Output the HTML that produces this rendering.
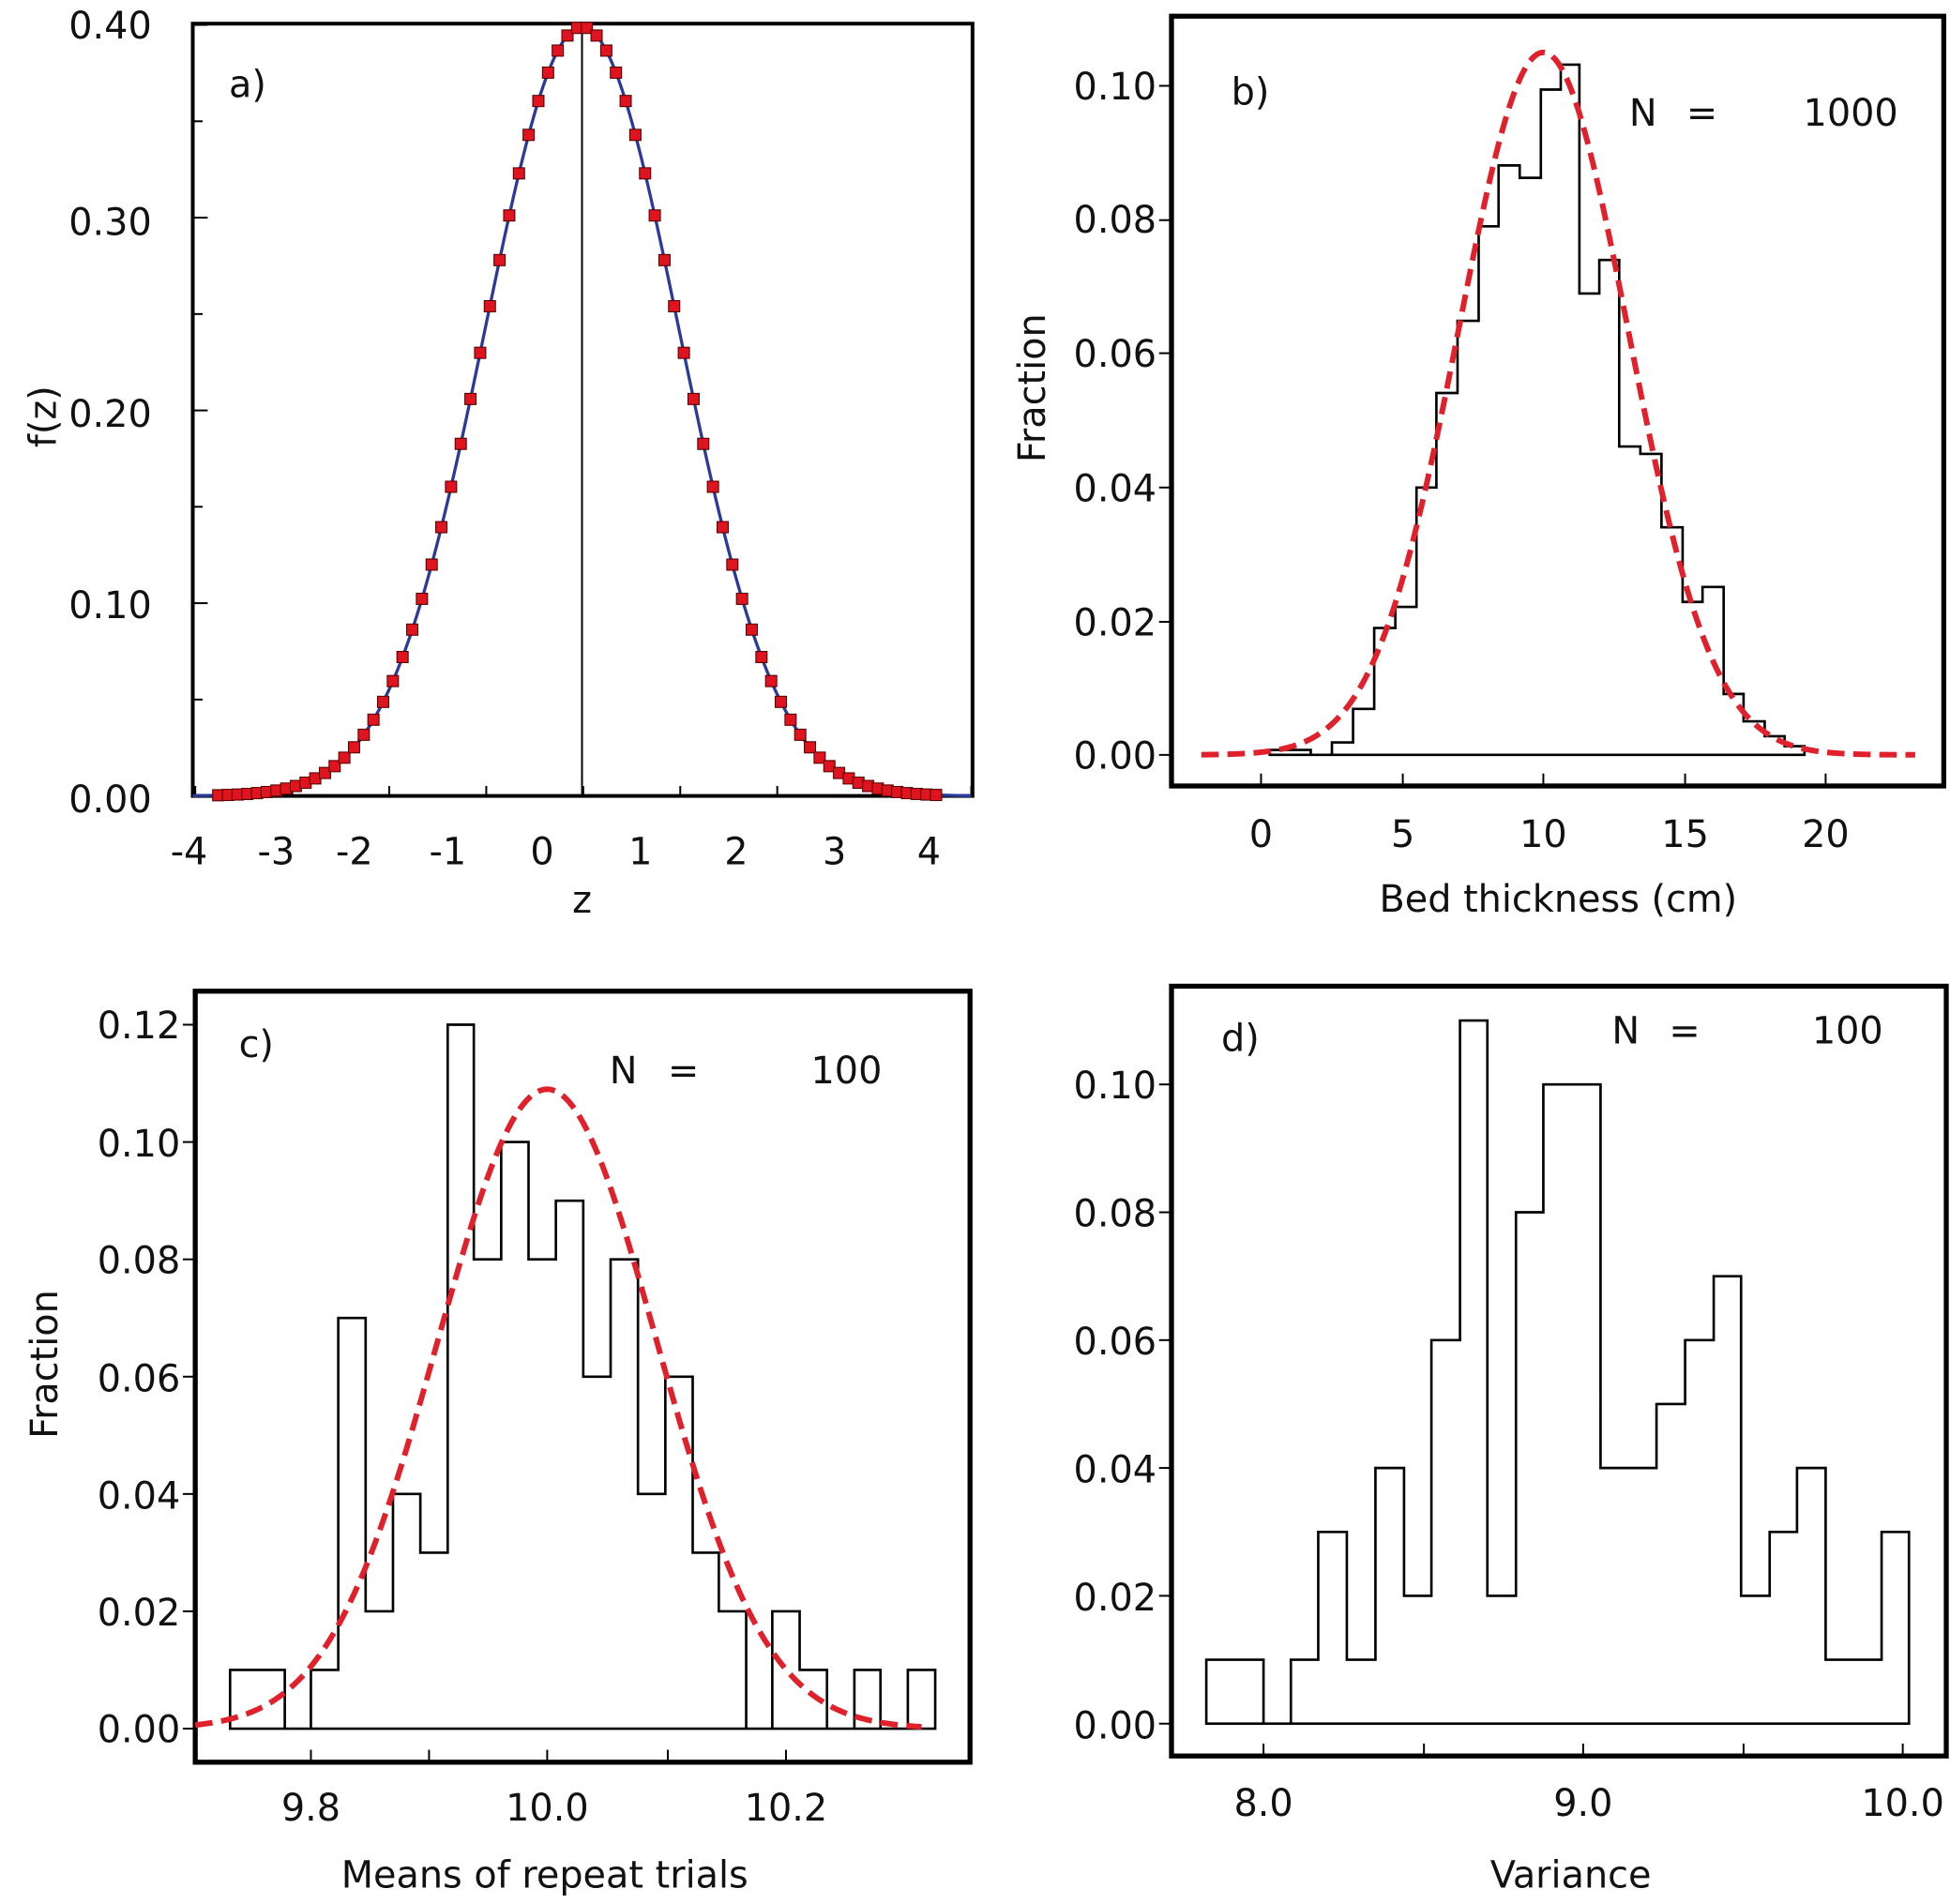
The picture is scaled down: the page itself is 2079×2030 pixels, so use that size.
<!DOCTYPE html>
<html><head><meta charset="utf-8"><style>
html,body{margin:0;padding:0;background:#fff}
svg{display:block}
text{font-family:"DejaVu Sans","Liberation Sans",sans-serif;font-size:30px;fill:#111}
</style></head><body>
<svg id="s" width="2079" height="2030" viewBox="0 0 1568 1531" xmlns="http://www.w3.org/2000/svg">
<g fill="none" stroke="#000">
<rect x="155" y="19" width="627" height="621" stroke-width="3"/>
<rect x="942" y="13" width="621" height="619" stroke-width="4"/>
<rect x="157" y="797" width="623" height="620" stroke-width="4"/>
<rect x="942" y="793" width="623" height="619" stroke-width="4"/>
</g>
<g id="ticks" stroke="#000" stroke-width="1.5"></g>
<g id="plots"></g>
<g text-anchor="end">
<text x="122" y="31">0.40</text><text x="122" y="189">0.30</text><text x="122" y="343">0.20</text><text x="122" y="497">0.10</text><text x="122" y="653">0.00</text>
</g>
<g text-anchor="middle">
<text x="152" y="695">-4</text><text x="222" y="695">-3</text><text x="285" y="695">-2</text><text x="360" y="695">-1</text><text x="436" y="695">0</text><text x="515" y="695">1</text><text x="592" y="695">2</text><text x="671" y="695">3</text><text x="747" y="695">4</text>
<text x="468" y="734">z</text>
</g>
<text x="184" y="78">a)</text>
<text transform="translate(45,335) rotate(-90)" text-anchor="middle">f(z)</text>
<g text-anchor="end">
<text x="930" y="80">0.10</text><text x="930" y="187">0.08</text><text x="930" y="295">0.06</text><text x="930" y="403">0.04</text><text x="930" y="511">0.02</text><text x="930" y="618">0.00</text>
</g>
<g text-anchor="middle">
<text x="1014" y="681">0</text><text x="1128" y="681">5</text><text x="1241" y="681">10</text><text x="1355" y="681">15</text><text x="1468" y="681">20</text>
<text x="1253" y="733">Bed thickness (cm)</text>
</g>
<text x="990" y="84">b)</text>
<text x="1310" y="101">N</text><text x="1356" y="101">=</text><text x="1450" y="101">1000</text>
<text transform="translate(840,312) rotate(-90)" text-anchor="middle">Fraction</text>
<g text-anchor="end">
<text x="145" y="835">0.12</text><text x="145" y="930">0.10</text><text x="145" y="1024">0.08</text><text x="145" y="1119">0.06</text><text x="145" y="1213">0.04</text><text x="145" y="1307">0.02</text><text x="145" y="1401">0.00</text>
</g>
<g text-anchor="middle">
<text x="250" y="1464">9.8</text><text x="440" y="1464">10.0</text><text x="632" y="1464">10.2</text>
<text x="438" y="1518">Means of repeat trials</text>
</g>
<text x="192" y="850">c)</text>
<text x="490" y="871">N</text><text x="537" y="871">=</text><text x="652" y="871">100</text>
<text transform="translate(46,1097) rotate(-90)" text-anchor="middle">Fraction</text>
<g text-anchor="end">
<text x="930" y="883">0.10</text><text x="930" y="986">0.08</text><text x="930" y="1089">0.06</text><text x="930" y="1192">0.04</text><text x="930" y="1295">0.02</text><text x="930" y="1398">0.00</text>
</g>
<g text-anchor="middle">
<text x="1016" y="1460">8.0</text><text x="1273" y="1460">9.0</text><text x="1530" y="1460">10.0</text>
<text x="1263" y="1518">Variance</text>
</g>
<text x="982" y="845">d)</text>
<text x="1296" y="839">N</text><text x="1342" y="839">=</text><text x="1457" y="839">100</text>
</svg>
<script>
const NS="http://www.w3.org/2000/svg";
const P=document.getElementById('plots'),T=document.getElementById('ticks');
function el(par,tag,a){const e=document.createElementNS(NS,tag);for(const k in a)e.setAttribute(k,a[k]);par.appendChild(e);return e;}
function line(x1,y1,x2,y2){el(T,'line',{x1,y1,x2,y2});}
for(let i=0;i<9;i++){const y=640-i*77.5;line(155,y,i%2?163:167,y);}
for(let i=0;i<9;i++){const x=157+i*78;line(x,640,x,632);}
[69,177,284,392,500,607].forEach(y=>line(942,y,932,y));
[1014,1128,1241,1355,1468].forEach(x=>line(x,632,x,622));
for(let i=0;i<=6;i++){const y=1390-i*0.02*4717;line(157,y,147,y);}
[250,345,440,537,632].forEach(x=>line(x,1417,x,1407));
for(let i=0;i<=5;i++){const y=1386-i*0.02*5140;line(942,y,932,y);}
[1016,1145,1273,1402,1530].forEach(x=>line(x,1412,x,1402));
let d='';const g=z=>Math.exp(-z*z/2)/Math.sqrt(2*Math.PI);
for(let x=155;x<=782;x+=2){const z=(x-468)/78;d+=(d?'L':'M')+x+','+(640-g(z)*1550).toFixed(2);}
el(P,'path',{d,fill:'none',stroke:'#2b3a9a','stroke-width':2.5});
el(P,'line',{x1:468,y1:20,x2:468,y2:640,stroke:'#000','stroke-width':1.5});
for(let i=0;i<75;i++){const z=-3.75+i*0.1;const x=468+z*78,y=640-g(z)*1550;el(P,'rect',{x:x-4.5,y:y-4.5,width:9,height:9,fill:'#e0141e',stroke:'#500','stroke-width':0.8});}
function hist(edges,vals,y0,sc){let s='M'+edges[0]+','+y0;for(let i=0;i<vals.length;i++){const y=y0-vals[i]*sc;s+='L'+edges[i]+','+y+'L'+edges[i+1]+','+y;}s+='L'+edges[edges.length-1]+','+y0+'Z';el(P,'path',{d:s,fill:'none',stroke:'#000','stroke-width':2});}
const bx=[1021,1054,1071,1088,1105,1122,1139,1155,1172,1189,1205,1222,1239,1255,1270,1286,1302,1319,1336,1353,1369,1386,1402,1419,1435,1451];
const by=[603,607,597,570,505,488,392,316,258,182,133,143,72,52,236,209,359,365,424,484,472,558,580,592,600];
hist(bx,by.map(y=>(607-y)),607,1);
const cx=[185,229,250,272,294,316,338,360,381,403,425,447,469,491,513,535,557,578,600,621,643,665,687,708,730,752];
const cv=[.01,0,.01,.07,.02,.04,.03,.12,.08,.10,.08,.09,.06,.08,.04,.06,.03,.02,0,.02,.01,0,.01,0,.01];
hist(cx,cv,1390,4717);
const dx=[970,1016,1038,1060,1083,1106,1129,1151,1174,1196,1219,1241,1287,1332,1355,1378,1400,1423,1445,1468,1513,1535];
const dv=[.01,0,.01,.03,.01,.04,.02,.06,.11,.02,.08,.10,.04,.05,.06,.07,.02,.03,.04,.01,.03];
hist(dx,dv,1386,5140);
function gauss(x0,x1,mu,sig,peak,y0,sc){let s='';for(let x=x0;x<=x1;x+=2){const y=y0-peak*Math.exp(-((x-mu)**2)/(2*sig*sig))*sc;s+=(s?'L':'M')+x+','+y.toFixed(2);}
el(P,'path',{d:s,fill:'none',stroke:'#e0202a','stroke-width':4.5,'stroke-dasharray':'14 7'});}
gauss(966,1540,1241,68,0.105,607,5380);
gauss(157,742,440,88,0.109,1390,4717);
</script>
</body></html>
